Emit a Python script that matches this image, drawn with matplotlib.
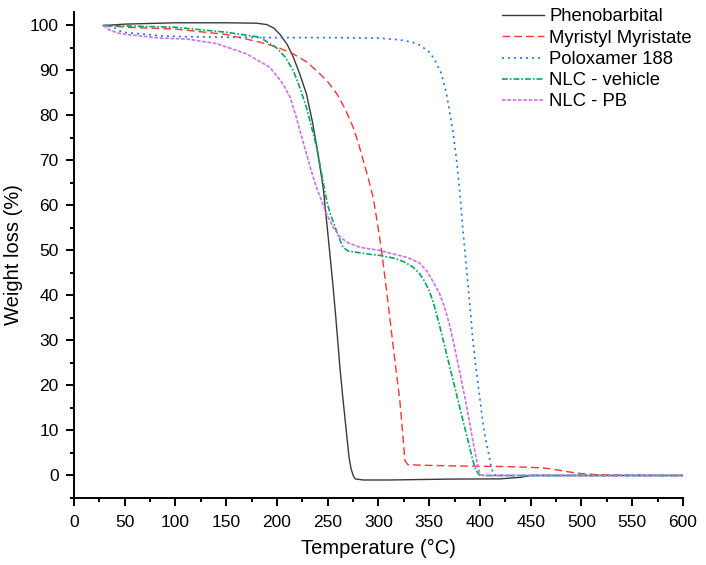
import matplotlib
matplotlib.use("Agg")
import matplotlib.pyplot as plt
from matplotlib.ticker import MultipleLocator

plt.rcParams['font.family'] = ['Liberation Sans', 'DejaVu Sans']

# ---- data ----
pheno_T = [30, 50, 100, 150, 180, 190, 197, 203, 210, 216, 222, 229, 235, 240, 245.5, 250, 255, 258,
           262, 265, 268.6, 271, 273, 275, 277, 285, 311, 370, 420, 440, 450, 500, 600]
pheno_W = [100.0, 100.3, 100.6, 100.6, 100.5, 100.2, 99.4, 98.0, 95.8, 93.0, 89.5, 84.8, 78.5, 72,
           64, 54, 42.6, 35, 24, 17, 9.2, 4, 1.5, 0, -0.75, -1.0, -1.0, -0.8, -0.75, -0.4, 0, 0, 0]

myr_T = [30, 52, 100, 150, 183, 200, 216, 230, 242, 250, 259, 267, 275, 280, 285, 290, 295, 299,
         303, 308, 313, 317, 321, 324, 326, 329, 340, 380, 420, 446, 460, 469, 477, 485, 493, 501,
         510, 518, 540, 600]
myr_W = [100, 99.6, 99.2, 98, 96.3, 95.2, 93.7, 91.8, 89.3, 87.5, 84.8, 81.5, 77.4, 74, 70, 66,
         61.5, 56, 50, 41, 31.5, 24, 16.7, 9, 3.3, 2.4, 2.3, 2.1, 2.0, 1.85, 1.7, 1.5, 1.2, 0.9,
         0.6, 0.4, 0.25, 0.15, 0.05, 0]

polo_T = [28, 35, 39, 45, 52, 58, 85, 111, 150, 200, 250, 300, 321, 333, 341, 350.7, 355.7, 362,
          367, 370.4, 373.6, 377, 380.3, 383, 386, 389, 391.5, 393, 395.5, 398, 400.5, 403, 405.5,
          408, 410.5, 413, 416, 600]
polo_W = [100, 99.8, 99.6, 98.8, 98.4, 98.3, 97.7, 97.5, 97.4, 97.3, 97.3, 97.2, 96.8, 96.3, 95.6,
          94.0, 92.2, 89.3, 84.8, 80.4, 76, 70, 62.6, 55, 47.8, 40.4, 34, 30, 25, 20.4, 16, 11.5, 8,
          5.5, 2.5, 0.4, 0, 0]

veh_T = [29, 52, 100, 150, 183, 199.7, 208, 216, 222, 229, 234, 239, 244, 249, 252, 255, 260, 265,
         270, 278.5, 290, 301.5, 315, 325, 334, 340, 345, 350, 354, 360, 366, 372, 378, 384, 389,
         393, 396, 399, 402, 600]
veh_W = [100, 99.9, 99.6, 98.5, 97.4, 95, 93, 90, 86.5, 81.8, 77.5, 73, 67, 61, 58.5, 56.6, 53.5,
         50.7, 49.9, 49.6, 49.2, 48.9, 48.3, 47.5, 46.3, 45, 43.3, 41, 38.5, 33.5, 28, 22.5, 17,
         11.5, 7, 3.3, 1.2, 0.2, 0, 0]

pb_T = [29, 35, 43.7, 52, 85, 111, 140, 170, 193, 206, 213, 219, 224, 229, 234, 239, 244, 249, 255,
        262, 270, 282, 301.5, 315, 327.8, 340, 347.5, 354, 360, 365, 370, 375, 380, 385, 390, 394,
        397, 399, 401, 405, 600]
pb_W = [100, 99, 98.3, 98, 97.2, 97, 96, 93.7, 90.7, 87, 84, 79.6, 75.5, 71.5, 67.5, 64, 61, 58,
        55.3, 53, 51.7, 50.7, 50, 49.2, 48.5, 47.3, 45.5, 43, 40.5, 37.5, 33.5, 28.5, 23, 17.5,
        11.5, 6.5, 3, 1, 0.1, 0, 0]

labels = ["Phenobarbital", "Myristyl Myristate", "Poloxamer 188", "NLC - vehicle", "NLC - PB"]
x_ticks = list(range(0, 601, 50))
y_ticks = list(range(0, 101, 10))

fig = plt.figure(figsize=(7.06, 5.65), dpi=100)
ax = fig.add_axes([0.1048, 0.1186, 0.8626, 0.8602])

ax.plot(pheno_T, pheno_W, color='#3a3a3a', lw=1.0, label=labels[0])
ax.plot(myr_T, myr_W, color='#ff3333', lw=1.0, dashes=(5.5, 3.0), label=labels[1])
ax.plot(polo_T, polo_W, color='#1f72e8', lw=1.2, dashes=(1.2, 2.4), label=labels[2])
ax.plot(veh_T, veh_W, color='#00a862', lw=1.2, dashes=(3.5, 1.2, 1.0, 1.2), label=labels[3])
ax.plot(pb_T, pb_W, color='#cc6ff0', lw=1.2, dashes=(2.2, 1.0), label=labels[4])

ax.set_xlim(0, 600)
ax.set_ylim(-5, 103)
ax.set_xticks(x_ticks)
ax.set_yticks(y_ticks)
ax.xaxis.set_minor_locator(MultipleLocator(25))
ax.yaxis.set_minor_locator(MultipleLocator(5))
for s in ['top', 'right']:
    ax.spines[s].set_visible(False)
for s in ['left', 'bottom']:
    ax.spines[s].set_linewidth(1.4)
ax.tick_params(which='major', direction='out', length=6, width=1.4, labelsize=12.5)
ax.tick_params(which='minor', direction='out', length=3, width=1.4)
ax.tick_params(axis='x', which='major', pad=6)
ax.tick_params(axis='y', which='major', pad=5)
ax.set_xlabel("Temperature (°C)", fontsize=14.5, labelpad=7)
ax.set_ylabel("Weight loss (%)", fontsize=14.5, labelpad=5)

ax.legend(loc='upper left', bbox_to_anchor=(502 / 706, 0.985), bbox_transform=fig.transFigure,
          frameon=False, fontsize=13.3, handlelength=2.3, handletextpad=0.27,
          labelspacing=0.23, borderaxespad=0.0, borderpad=0.0)

fig.savefig("out.png", dpi=100)
